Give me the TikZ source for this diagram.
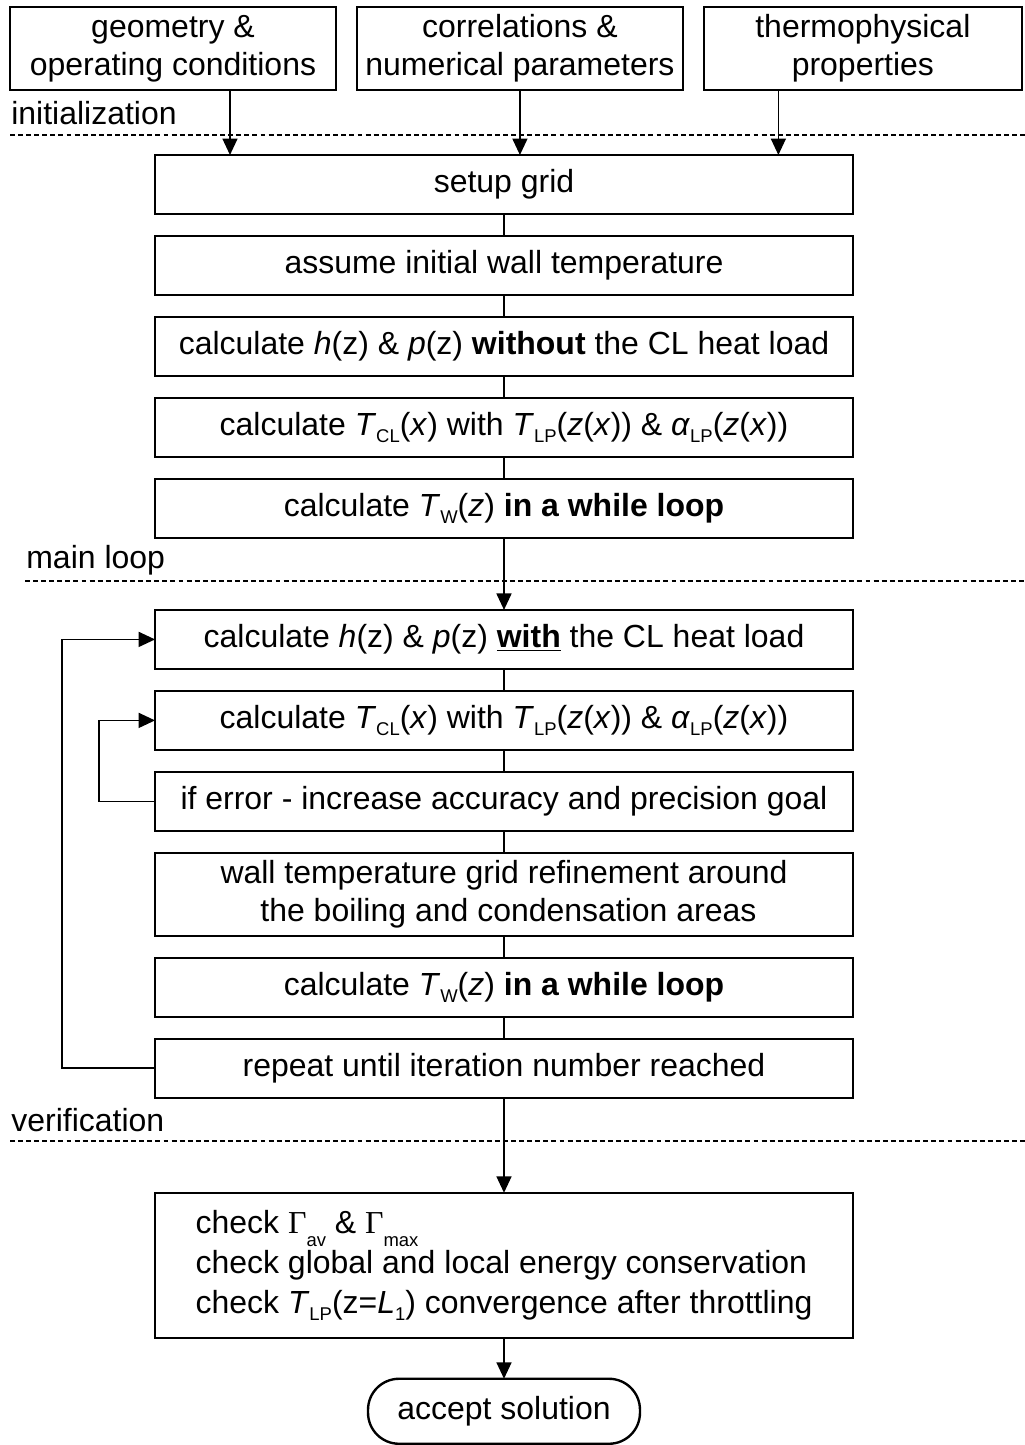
\documentclass[tikz,border=0pt]{standalone}
\usepackage{fontspec}
\setmainfont{Liberation Sans}
\newfontfamily\greekserif{Liberation Serif}
\usetikzlibrary{positioning}
\usetikzlibrary{arrows.meta}
\newcommand*{\lowidx}[1]{\raisebox{-0.45ex}{\fontsize{10.5}{10.5}\selectfont #1}}
\newcommand*{\deepidx}[1]{\raisebox{-0.8ex}{\fontsize{10.5}{10.5}\selectfont #1}}
\tikzset{
    inputnode/.style={
        draw,rectangle,line width=1.35pt,align=center,
        minimum width=6.52cm,minimum height=1.66cm,
        outer sep=0pt,inner sep=0pt,
        },
    stepnode/.style={
        draw,rectangle,line width=1.35pt,align=center,
        minimum width=13.96cm,minimum height=1.18cm,
        outer sep=0pt,inner sep=0pt,
        },
    termnode/.style={
        draw,rectangle,rounded corners=0.62cm,line width=1.35pt,
        minimum width=5.44cm,minimum height=1.3cm,
        outer sep=0pt,inner sep=0pt,
        },
    phasenode/.style={
        anchor=west,inner sep=0pt,
        },
    phaseline/.style={
        line width=1.2pt,dash pattern=on 2.8pt off 1.8pt,
        },
    flowarrow/.style={
        line width=1pt,-{Triangle[length=0.33cm,width=0.3cm]},
        },
    flowback/.style={
        line width=1pt,{Triangle[length=0.33cm,width=0.3cm]}-,
        },
    plainline/.style={
        line width=1pt,
        }
    }

\begin{document}
\begin{tikzpicture}[x=0.02cm,y=-0.02cm,node distance=0.44cm,
    font=\fontsize{18.2}{21.6}\selectfont]
    \useasboundingbox (0,0) rectangle (1025,1445);
    % inputs
    \node[inputnode] (geo) at (173,48.5) {geometry \&\\operating conditions};
    \node[inputnode] (corr) [right=0.42cm of geo] {correlations \&\\numerical parameters};
    \node[inputnode,minimum width=6.36cm] (prop) [right=0.42cm of corr] {thermophysical\\properties};
    % phases
    \node[phasenode] (init) at (11,113) {initialization};
    \node[phasenode] (main) at (26,560) {main loop};
    \node[phasenode] (verif) at (11,1120) {verification};
    \draw[phaseline] (10,135) -- (1025,135);
    \draw[phaseline] (25,581) -- (1025,581);
    \draw[phaseline] (10,1141) -- (1025,1141);
    % initialization
    \node[stepnode] (grid) at (504,184.5) {setup grid};
    \node[stepnode] (twall) [below=of grid] {assume initial wall temperature} edge[plainline] (grid);
    \node[stepnode] (hp1) [below=of twall] {calculate \textit{h}(z) \& \textit{p}(z) \textbf{without} the CL heat load} edge[plainline] (twall);
    \node[stepnode] (tcl1) [below=of hp1] {calculate \textit{T}\lowidx{CL}(\textit{x}) with \textit{T}\lowidx{LP}(\textit{z}(\textit{x})) \& \textit{α}\lowidx{LP}(\textit{z}(\textit{x}))} edge[plainline] (hp1);
    \node[stepnode] (tw1) [below=of tcl1] {calculate \textit{T}\lowidx{W}(\textit{z}) \textbf{in a while loop}} edge[plainline] (tcl1);
    \draw[flowarrow] ([xshift=1.14cm]geo.south) -- ([xshift=1.14cm]geo.south |- grid.north);
    \draw[flowarrow] (corr.south) -- (corr.south |- grid.north);
    \draw[flowarrow] ([xshift=-1.69cm]prop.south) -- ([xshift=-1.69cm]prop.south |- grid.north);
    % main loop
    \node[stepnode] (hp2) [below=1.44cm of tw1] {calculate \textit{h}(z) \& \textit{p}(z) \underline{\textbf{with}} the CL heat load} edge[flowback] (tw1);
    \node[stepnode] (tcl2) [below=of hp2] {calculate \textit{T}\lowidx{CL}(\textit{x}) with \textit{T}\lowidx{LP}(\textit{z}(\textit{x})) \& \textit{α}\lowidx{LP}(\textit{z}(\textit{x}))} edge[plainline] (hp2);
    \node[stepnode] (err) [below=of tcl2] {if error - increase accuracy and precision goal} edge[plainline] (tcl2);
    \node[stepnode,minimum height=1.66cm] (refine) [below=of err] {wall temperature grid refinement around\\\ the boiling and condensation areas} edge[plainline] (err);
    \node[stepnode] (tw2) [below=of refine] {calculate \textit{T}\lowidx{W}(\textit{z}) \textbf{in a while loop}} edge[plainline] (refine);
    \node[stepnode] (rep) [below=of tw2] {repeat until iteration number reached} edge[plainline] (tw2);
    \draw[flowarrow] (err.west) -- ++(-1.12cm,0) |- (tcl2.west);
    \draw[flowarrow] (rep.west) -- ++(-1.86cm,0) |- (hp2.west);
    % verification
    \node[stepnode,minimum height=2.9cm,align=left,
        font=\fontsize{18.2}{22.8}\selectfont] (check) [below=1.9cm of rep]
        {check {\greekserif Γ}\deepidx{av} \& {\greekserif Γ}\deepidx{max}\\
         check global and local energy conservation\\
         check \textit{T}\lowidx{LP}(z=\textit{L}\lowidx{1}) convergence after throttling} edge[flowback] (rep);
    \node[termnode] (accept) [below=0.82cm of check] {accept solution} edge[flowback] (check);
\end{tikzpicture}
\end{document}
